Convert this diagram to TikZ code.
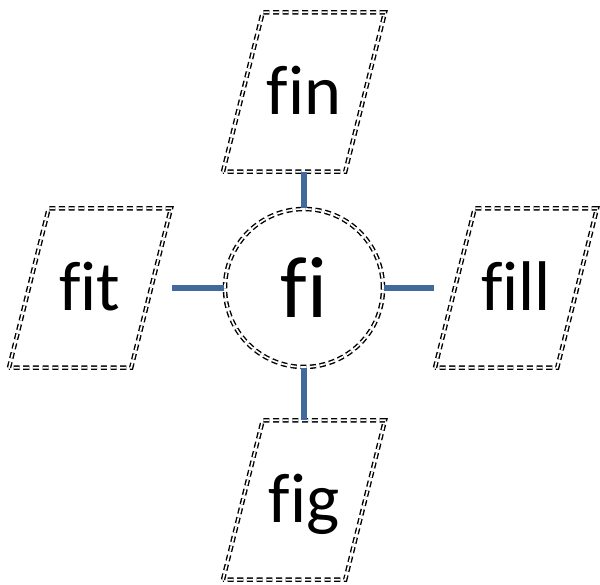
\documentclass[tikz,border=0pt]{standalone}
\usepackage{fontspec}
\setmainfont{Carlito}[Ligatures=NoCommon]
\usetikzlibrary{positioning,shapes.geometric}
\definecolor{linkblue}{RGB}{65,105,155}

\begin{document}
\begin{tikzpicture}[
                node distance=5cm,
                on grid,
                dbl/.style={draw, double, double distance=1.2pt, line width=1pt,
                    dash pattern=on 4.3pt off 2.6pt},
                word/.style={dbl, trapezium, trapezium left angle=76,
                    trapezium right angle=104, trapezium stretches body=true,
                    minimum width=4.05cm, text height=40pt, text depth=8pt,
                    inner xsep=0pt, inner ysep=1.15cm,
                    font=\fontsize{50}{60}\selectfont},
                hub/.style={dbl, circle, minimum size=3.95cm, inner sep=0pt,
                    font=\fontsize{62}{72}\selectfont},
                link/.style={linkblue, line width=4pt}]
            \useasboundingbox (-7.6,7.2) rectangle (7.4,-7.425);
            \node[hub] (fi) {fi};
            \node[word] (fin) [above=4.9cm of fi] {fin};
            \node[word] (fit) [left=5.35cm of fi] {fit};
            \node[word] (fill) [right=5.3cm of fi] {fill};
            \node[word] (fig) [below=5.3cm of fi] {fig};
            \draw[link] (fi.north) -- (fi.north |- fin.bottom left corner);
            \draw[link] (fi.west) -- (fi.west -| fit.top right corner);
            \draw[link] (fi.east) -- (fi.east -| fill.bottom left corner);
            \draw[link] (fi.south) -- (fi.south |- fig.top left corner);
        \end{tikzpicture}
\end{document}
